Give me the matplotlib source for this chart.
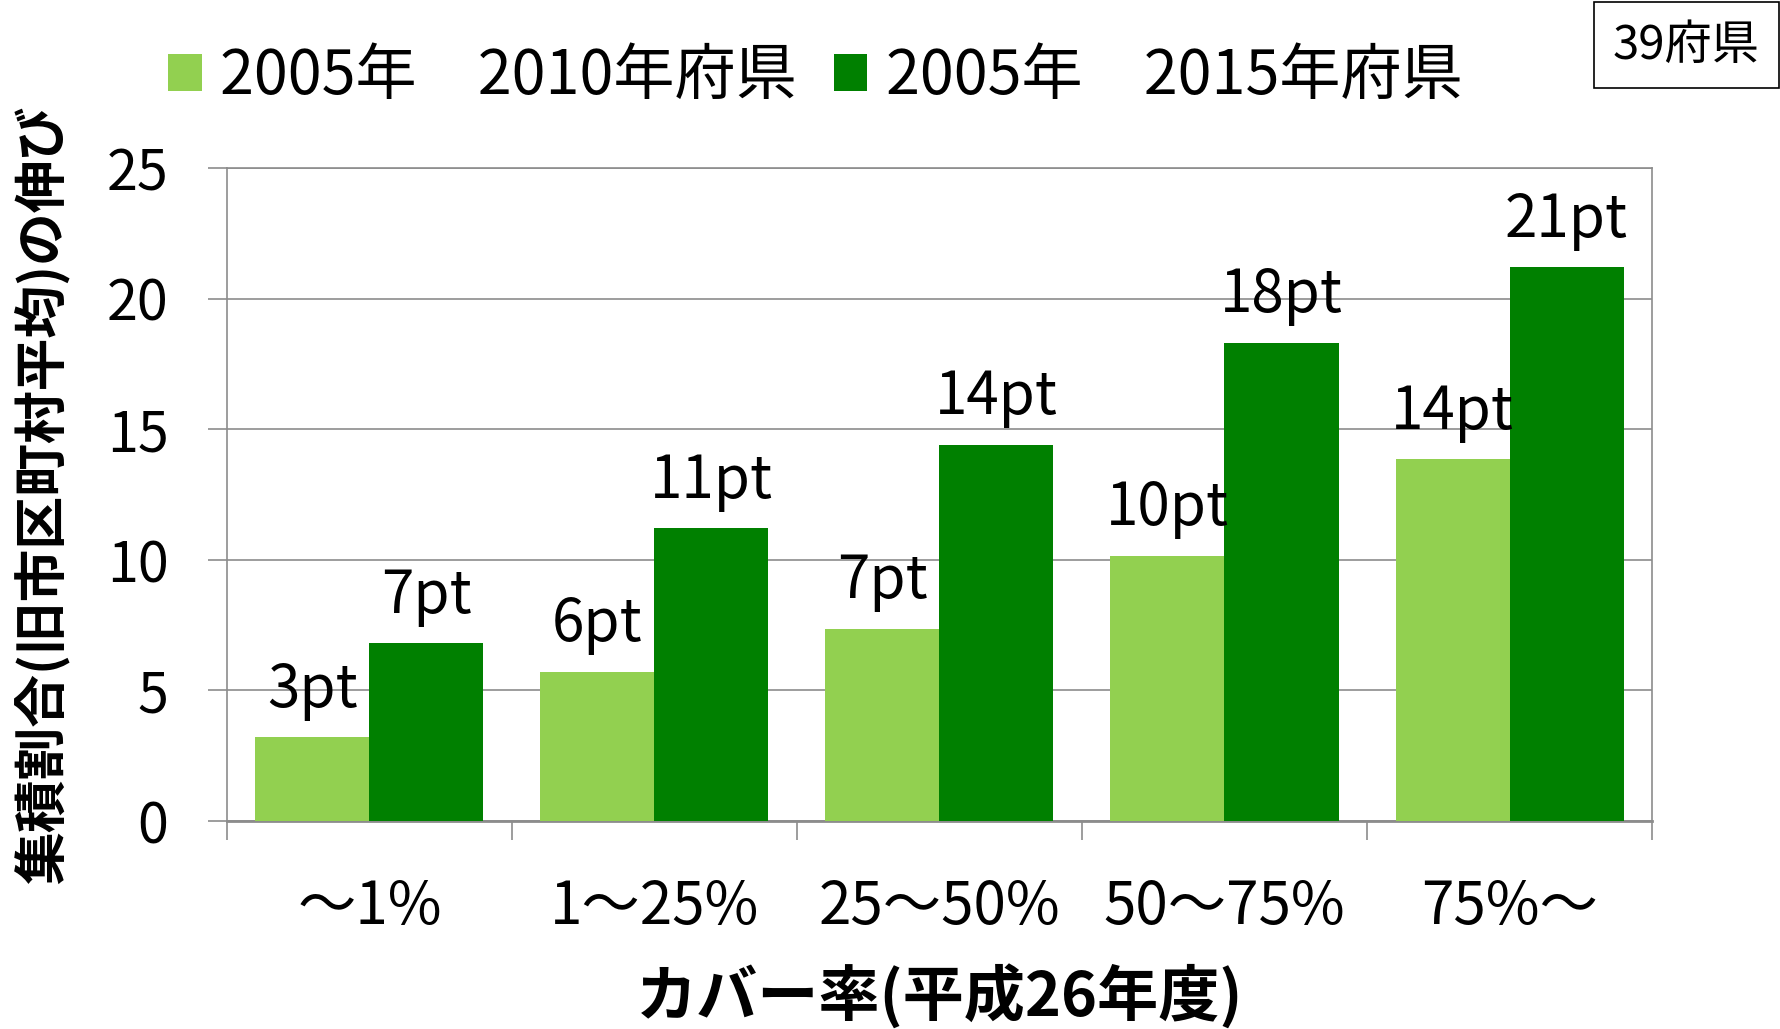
import matplotlib
matplotlib.use('Agg')
import matplotlib.pyplot as plt
import numpy as np

plt.rcParams['font.family'] = ['Noto Sans CJK JP', 'DejaVu Sans']

# Data
categories = ['～1%', '1～25%', '25～50%', '50～75%', '75%～']
growth_2010 = [3.2, 5.7, 7.35, 10.15, 13.85]
growth_2015 = [6.8, 11.2, 14.4, 18.3, 21.2]
series_names = ['2005年\u30002010年府県', '2005年\u30002015年府県']
colors = ['#92D050', '#008000']
y_ticks = [0, 5, 10, 15, 20, 25]

grid_color = '#8c8c8c'

fig = plt.figure(figsize=(17.8, 10.29), dpi=100)
ax = fig.add_axes([0.1275, 0.2021, 0.8006, 0.6346])

x = np.arange(len(categories))
w = 0.4
bars1 = ax.bar(x - w / 2, growth_2010, width=w, color=colors[0], label=series_names[0], zorder=3)
bars2 = ax.bar(x + w / 2, growth_2015, width=w, color=colors[1], label=series_names[1], zorder=3)

# Data labels above bars
for bars, vals in [(bars1, growth_2010), (bars2, growth_2015)]:
    for b, v in zip(bars, vals):
        ax.annotate(f'{v:.0f}pt', (b.get_x() + b.get_width() / 2, v),
                    xytext=(0, 12), textcoords='offset points',
                    ha='center', va='bottom', fontsize=42, zorder=4)

ax.set_xlim(-0.5, len(categories) - 0.5)
ax.set_ylim(0, 25)
ax.set_yticks(y_ticks)
ax.set_yticklabels([str(t) for t in y_ticks], fontsize=40)
ax.yaxis.grid(True, color=grid_color, linewidth=1.2, zorder=0)

ax.set_xticks(x)
ax.set_xticklabels(categories, fontsize=42)
ax.set_xticks(np.arange(-0.5, len(categories)), minor=True)
ax.tick_params(axis='x', which='major', length=0, pad=40)
ax.tick_params(axis='x', which='minor', length=14, width=1.2, color=grid_color)
ax.tick_params(axis='y', length=14, width=1.2, color=grid_color, pad=28)

for side in ['left', 'right', 'top', 'bottom']:
    ax.spines[side].set_color(grid_color)
    ax.spines[side].set_linewidth(1.2)
ax.spines['bottom'].set_linewidth(2)

ax.set_xlabel('カバー率(平成26年度)', fontsize=44, fontweight='bold', va='center')
ax.xaxis.set_label_coords(0.5, -0.27)
ax.set_ylabel('集積割合(旧市区町村平均)の伸び', fontsize=38, fontweight='bold', va='center')
ax.yaxis.set_label_coords(-0.129, 0.5)

fig.legend(loc='center left', bbox_to_anchor=(0.0945, 0.925), ncol=2, frameon=False,
           fontsize=44, handlelength=0.55, handleheight=0.55, handletextpad=0.3,
           columnspacing=0.6, borderpad=0, borderaxespad=0)

fig.text(0.9475, 0.956, '39府県', fontsize=34, ha='center', va='center',
         bbox=dict(boxstyle='square,pad=0.4', facecolor='white', edgecolor='black', linewidth=1.2))

fig.savefig('out.png', dpi=100)
